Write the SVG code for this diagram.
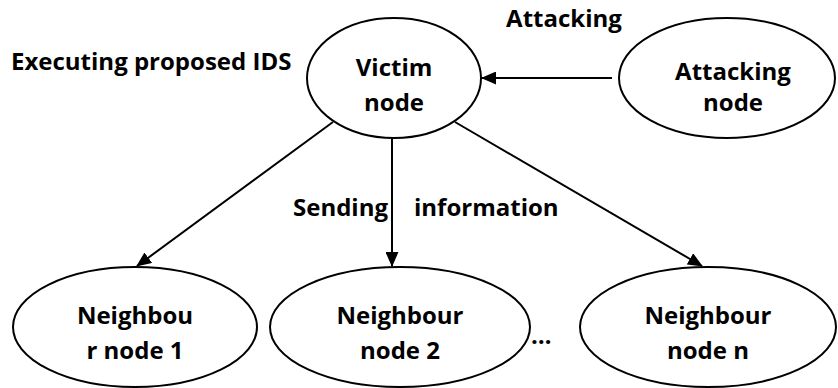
<svg xmlns="http://www.w3.org/2000/svg" width="838" height="388" viewBox="0 0 838 388">
<defs>
<style>
.n{fill:#fff;stroke:#000;stroke-width:2}
.t{font-family:"Open Sans","Noto Sans",sans-serif;font-weight:700;font-size:24px;fill:#000}
.c{stroke:#000;stroke-width:2;fill:none}
</style>
<marker id="a" markerWidth="15" markerHeight="13" refX="14" refY="6.5" orient="auto" markerUnits="userSpaceOnUse">
<path d="M0,0 L15,6.5 L0,13 Z" fill="#000"/>
</marker>
</defs>
<rect width="838" height="388" fill="#fff"/>
<g id="connectors">
<line class="c" x1="612" y1="78" x2="482" y2="78" marker-end="url(#a)"/>
<line class="c" x1="333" y1="122" x2="137" y2="266" marker-end="url(#a)"/>
<line class="c" x1="392" y1="139" x2="392" y2="266" marker-end="url(#a)"/>
<line class="c" x1="455" y1="122" x2="702" y2="266" marker-end="url(#a)"/>
</g>
<g id="labels">
<text class="t" x="11" y="70">Executing proposed IDS</text>
<text class="t" x="564" y="27" text-anchor="middle">Attacking</text>
<text class="t" x="293" y="216">Sending</text>
<text class="t" x="414" y="216">information</text>
<text class="t" x="531" y="344">…</text>
</g>
<g id="victim">
<ellipse class="n" cx="394" cy="78" rx="87" ry="60"/>
<text class="t" x="394" y="76" text-anchor="middle">Victim</text>
<text class="t" x="394" y="111" text-anchor="middle">node</text>
</g>
<g id="attacker">
<ellipse class="n" cx="727" cy="78" rx="108" ry="60"/>
<text class="t" x="733" y="80" text-anchor="middle">Attacking</text>
<text class="t" x="733" y="111" text-anchor="middle">node</text>
</g>
<g id="neighbour1">
<ellipse class="n" cx="135" cy="327" rx="122" ry="60"/>
<text class="t" x="135" y="324" text-anchor="middle">Neighbou</text>
<text class="t" x="135" y="359" text-anchor="middle">r node 1</text>
</g>
<g id="neighbour2">
<ellipse class="n" cx="400" cy="327" rx="130" ry="60"/>
<text class="t" x="400" y="324" text-anchor="middle">Neighbour</text>
<text class="t" x="400" y="359" text-anchor="middle">node 2</text>
</g>
<g id="neighbourn">
<ellipse class="n" cx="708" cy="327" rx="128" ry="60"/>
<text class="t" x="708" y="324" text-anchor="middle">Neighbour</text>
<text class="t" x="708" y="359" text-anchor="middle">node n</text>
</g>
</svg>
